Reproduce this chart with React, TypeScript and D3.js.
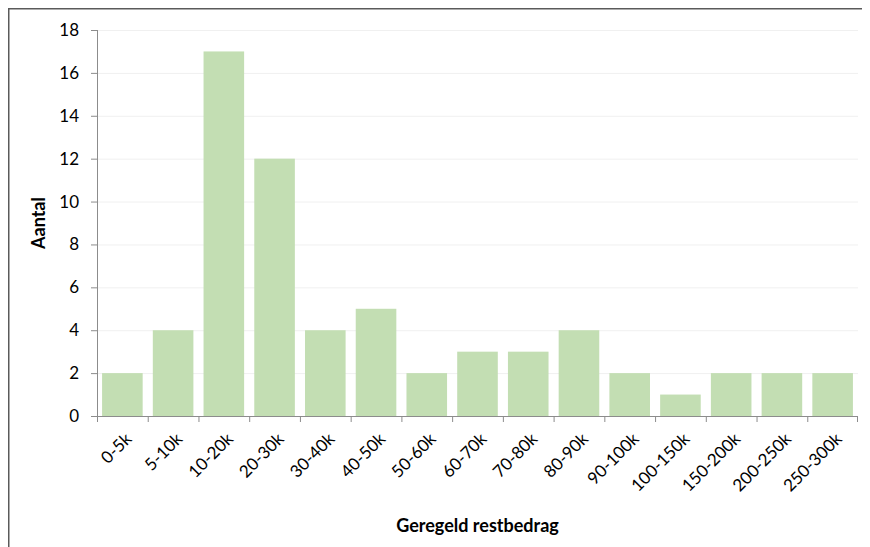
import React from "react";
import * as d3 from "d3";

const categories = [
  "0-5k", "5-10k", "10-20k", "20-30k", "30-40k", "40-50k", "50-60k", "60-70k",
  "70-80k", "80-90k", "90-100k", "100-150k", "150-200k", "200-250k", "250-300k",
];
const counts = [2, 4, 17, 12, 4, 5, 2, 3, 3, 4, 2, 1, 2, 2, 2];
const yTicks = [0, 2, 4, 6, 8, 10, 12, 14, 16, 18];

const W = 862;
const H = 539;
const margin = { left: 89, right: 12, top: 22, bottom: 131 };
const font = "Lato, 'Open Sans', sans-serif";

const App = () => {
  const x = d3
    .scaleBand()
    .domain(categories)
    .range([margin.left, W - margin.right])
    .paddingInner(0.2)
    .paddingOuter(0.1);

  const y = d3
    .scaleLinear()
    .domain([0, 18])
    .range([H - margin.bottom, margin.top]);

  const step = x.step();
  const x0 = margin.left;
  const x1 = W - margin.right;
  const y0 = y(0);

  return (
    <svg width={W} height={H} style={{ display: "block" }} fontFamily={font}>
      <rect x={0.75} y={0.75} width={W + 20} height={H + 40} fill="white" stroke="#5a5a5a" strokeWidth={1.5} />

      {/* grid */}
      {yTicks.filter(t => t > 0).map(t => (
        <line key={t} x1={x0} x2={x1} y1={y(t) + 0.5} y2={y(t) + 0.5} stroke="#f0f0f0" />
      ))}

      {/* bars */}
      {categories.map((c, i) => (
        <rect
          key={c}
          x={x(c)}
          y={y(counts[i])}
          width={x.bandwidth()}
          height={y0 - y(counts[i])}
          fill="#c3deb3"
        />
      ))}

      {/* y axis */}
      <line x1={x0 + 0.5} x2={x0 + 0.5} y1={y(18)} y2={y0} stroke="#8c8c8c" />
      {yTicks.map(t => (
        <g key={t}>
          <line x1={x0 - 6} x2={x0} y1={y(t) + 0.5} y2={y(t) + 0.5} stroke="#8c8c8c" />
          <text x={x0 - 18} y={y(t)} dy="0.35em" textAnchor="end" fontSize={17} fill="#000">
            {t}
          </text>
        </g>
      ))}

      {/* x axis */}
      <line x1={x0} x2={x1} y1={y0 + 0.5} y2={y0 + 0.5} stroke="#8c8c8c" />
      {categories.map((c, i) => (
        <line key={c} x1={x0 + i * step + 0.5} x2={x0 + i * step + 0.5} y1={y0} y2={y0 + 6} stroke="#8c8c8c" />
      ))}
      <line x1={x1 - 0.5} x2={x1 - 0.5} y1={y0} y2={y0 + 6} stroke="#8c8c8c" />
      {categories.map(c => {
        const cx = (x(c) ?? 0) + x.bandwidth() / 2 + 6;
        const cy = y0 + 20;
        return (
          <text
            key={c}
            transform={`translate(${cx},${cy}) rotate(-45)`}
            textAnchor="end"
            dy="0.35em"
            fontSize={17}
            fill="#000"
          >
            {c}
          </text>
        );
      })}

      {/* titles */}
      <text
        transform={`translate(37,${(y(18) + y0) / 2}) rotate(-90)`}
        textAnchor="middle"
        fontSize={18}
        fontWeight="bold"
      >
        Aantal
      </text>
      <text x={(x0 + x1) / 2} y={524} textAnchor="middle" fontSize={18} fontWeight="bold">
        Geregeld restbedrag
      </text>
    </svg>
  );
};

export default App;
